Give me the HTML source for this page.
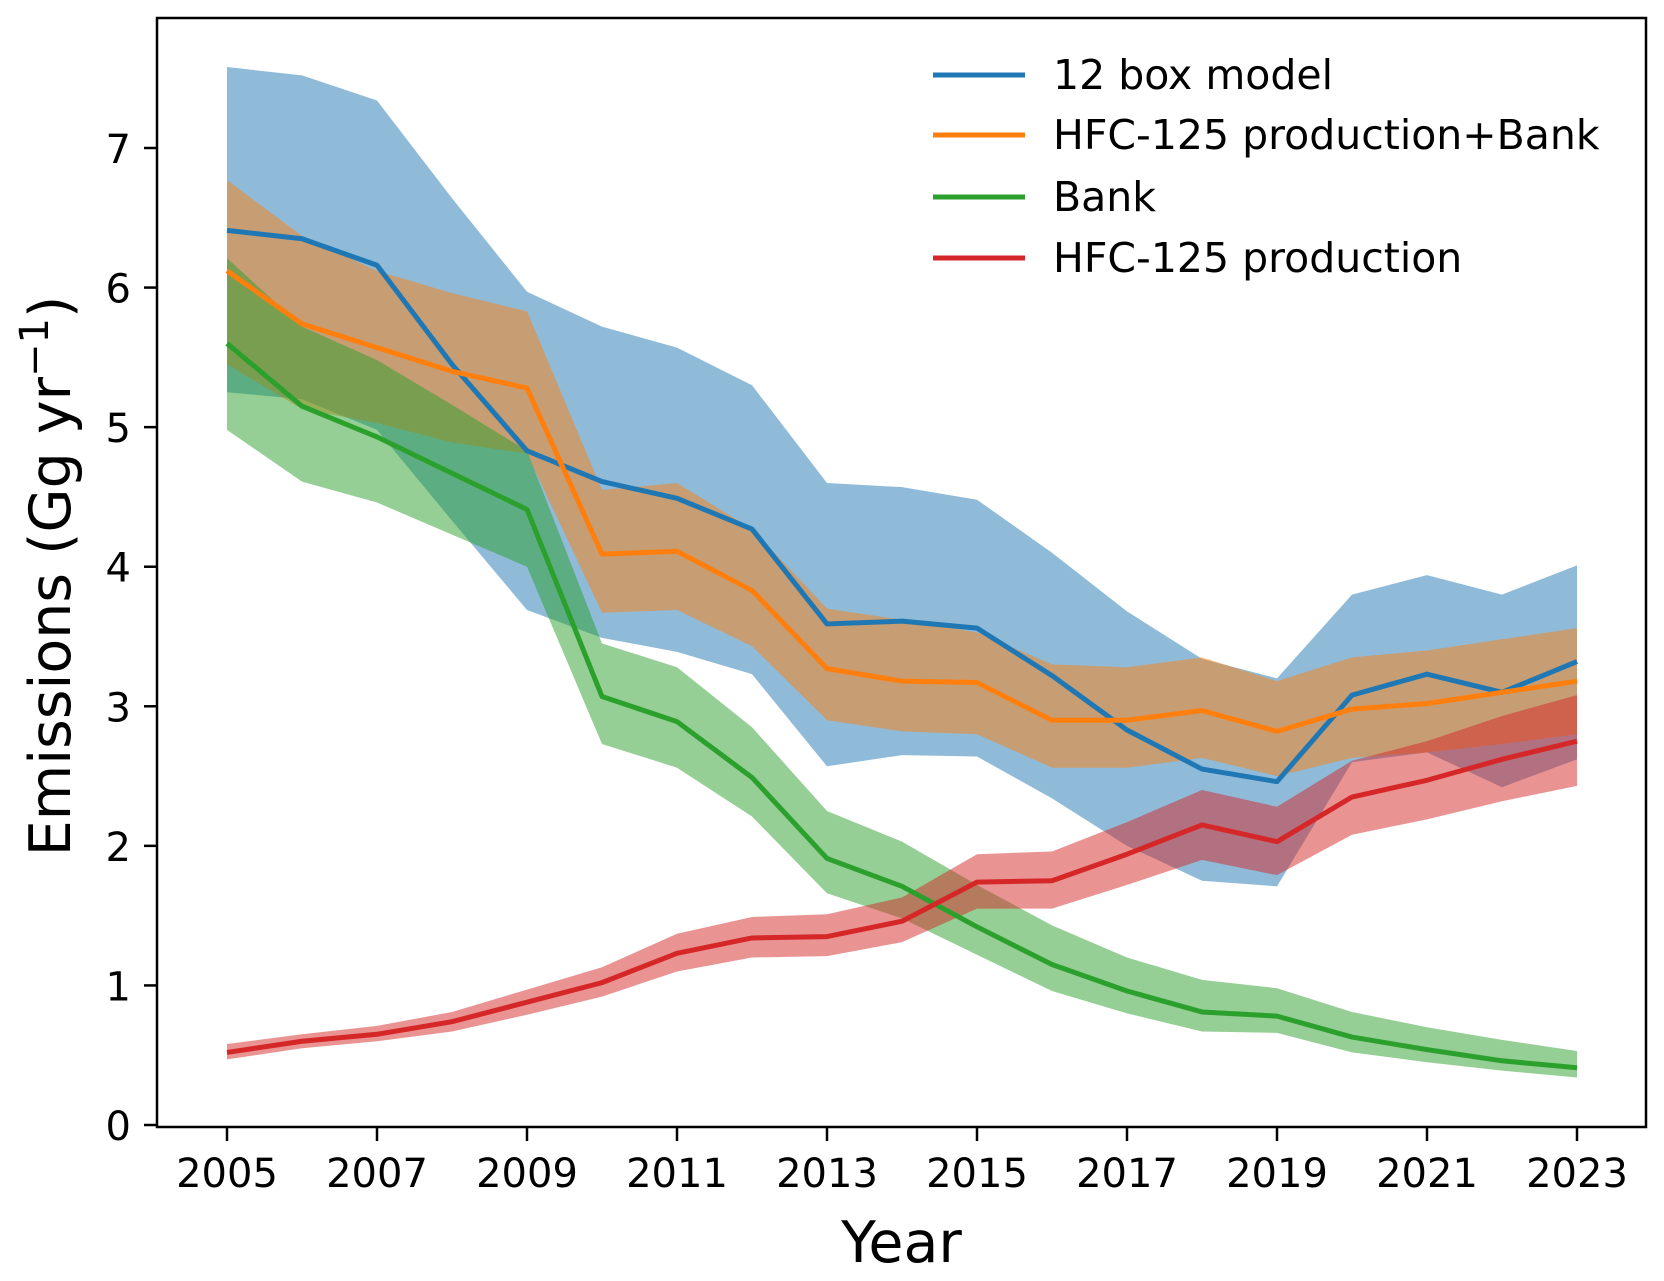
<!DOCTYPE html>
<html><head><meta charset="utf-8"><style>
html,body{margin:0;padding:0;background:#fff;}
svg text{font-family:"DejaVu Sans","Liberation Sans",sans-serif;fill:#000;}
</style></head><body>
<svg id="chart" width="1664" height="1276" viewBox="0 0 1664 1276" xmlns="http://www.w3.org/2000/svg">
<g id="fills"></g>
<g id="lines"></g>
<g id="axes"></g>
<g id="legend"></g>
</svg>
<script>
const years = [2005,2006,2007,2008,2009,2010,2011,2012,2013,2014,2015,2016,2017,2018,2019,2020,2021,2022,2023];
const boxMean = [6.41,6.35,6.16,5.45,4.83,4.61,4.49,4.27,3.59,3.61,3.56,3.22,2.83,2.55,2.46,3.08,3.23,3.10,3.32];
const boxHi = [7.58,7.52,7.34,6.64,5.97,5.72,5.57,5.30,4.60,4.57,4.48,4.10,3.68,3.34,3.20,3.80,3.94,3.80,4.01];
const boxLo = [5.25,5.20,4.98,4.33,3.69,3.49,3.39,3.23,2.57,2.65,2.64,2.34,2.00,1.75,1.71,2.60,2.67,2.42,2.62];
const pbMean = [6.12,5.74,5.57,5.40,5.28,4.09,4.11,3.83,3.27,3.18,3.17,2.90,2.90,2.97,2.82,2.98,3.02,3.10,3.18];
const pbHi = [6.77,6.37,6.12,5.96,5.83,4.55,4.60,4.27,3.70,3.62,3.53,3.30,3.28,3.35,3.18,3.35,3.40,3.48,3.56];
const pbLo = [5.45,5.13,5.03,4.89,4.81,3.67,3.69,3.43,2.90,2.82,2.80,2.56,2.56,2.63,2.50,2.63,2.67,2.73,2.80];
const bankMean = [5.60,5.15,4.93,4.67,4.41,3.07,2.89,2.49,1.91,1.71,1.42,1.15,0.96,0.81,0.78,0.63,0.54,0.46,0.41];
const bankHi = [6.21,5.72,5.48,5.16,4.83,3.45,3.28,2.85,2.25,2.03,1.72,1.43,1.20,1.04,0.98,0.81,0.70,0.61,0.53];
const bankLo = [4.98,4.61,4.46,4.23,4.00,2.73,2.56,2.21,1.66,1.48,1.22,0.96,0.80,0.67,0.66,0.52,0.45,0.39,0.34];
const prodMean = [0.52,0.60,0.65,0.74,0.88,1.02,1.23,1.34,1.35,1.46,1.74,1.75,1.94,2.15,2.03,2.35,2.47,2.62,2.75];
const prodHi = [0.58,0.65,0.71,0.81,0.97,1.13,1.37,1.49,1.51,1.63,1.94,1.96,2.17,2.40,2.28,2.61,2.75,2.93,3.08];
const prodLo = [0.47,0.55,0.60,0.67,0.79,0.92,1.10,1.20,1.21,1.31,1.55,1.55,1.72,1.90,1.79,2.08,2.19,2.32,2.43];
const yTicks = [0,1,2,3,4,5,6,7];
const xTicks = [2005,2007,2009,2011,2013,2015,2017,2019,2021,2023];
const legendLabels = ["12 box model","HFC-125 production+Bank","Bank","HFC-125 production"];

const NS="http://www.w3.org/2000/svg";
const L=157,R=1646,T=18,B=1127;
const xS=y=>227+(y-2005)*(1577-227)/18;
const yS=v=>1125-v*(1125-148)/7;
function mk(tag,parent){const e=document.createElementNS(NS,tag);document.getElementById(parent).appendChild(e);return e;}
const series=[
 {n:"box-model",c:"#1f77b4",m:boxMean,h:boxHi,l:boxLo},
 {n:"production-plus-bank",c:"#ff7f0e",m:pbMean,h:pbHi,l:pbLo},
 {n:"bank",c:"#2ca02c",m:bankMean,h:bankHi,l:bankLo},
 {n:"production",c:"#d62728",m:prodMean,h:prodHi,l:prodLo}];
series.forEach(s=>{
 const up=years.map((y,i)=>xS(y)+","+yS(s.h[i]));
 const lo=years.map((y,i)=>xS(y)+","+yS(s.l[i])).reverse();
 const p=mk("polygon","fills");
 
 
 p.setAttribute("points",up.concat(lo).join(" "));
 p.setAttribute("fill",s.c);p.setAttribute("fill-opacity","0.5");
});
series.forEach(s=>{
 const ln=mk("polyline","lines");
 
 
 ln.setAttribute("points",years.map((y,i)=>xS(y)+","+yS(s.m[i])).join(" "));
 ln.setAttribute("fill","none");ln.setAttribute("stroke",s.c);ln.setAttribute("stroke-width","5");ln.setAttribute("stroke-linejoin","round");
});
const fr=mk("rect","axes");


fr.setAttribute("x",L);fr.setAttribute("y",T);fr.setAttribute("width",R-L);fr.setAttribute("height",B-T);
fr.setAttribute("fill","none");fr.setAttribute("stroke","#000");fr.setAttribute("stroke-width","2.5");
yTicks.forEach(v=>{
 const t=mk("line","axes");
 
 
 t.setAttribute("x1",L-13);t.setAttribute("x2",L);t.setAttribute("y1",yS(v));t.setAttribute("y2",yS(v));t.setAttribute("stroke","#000");t.setAttribute("stroke-width","2.5");
 const tx=mk("text","axes");
 
 
 tx.setAttribute("x",L-26);tx.setAttribute("y",yS(v)+15);tx.setAttribute("text-anchor","end");tx.setAttribute("font-size","40");tx.textContent=v;
});
xTicks.forEach(v=>{
 const t=mk("line","axes");
 
 
 t.setAttribute("x1",xS(v));t.setAttribute("x2",xS(v));t.setAttribute("y1",B);t.setAttribute("y2",B+14);t.setAttribute("stroke","#000");t.setAttribute("stroke-width","2.5");
 const tx=mk("text","axes");
 
 
 tx.setAttribute("x",xS(v));tx.setAttribute("y",1187);tx.setAttribute("text-anchor","middle");tx.setAttribute("font-size","40");tx.textContent=v;
});
const xl=mk("text","axes");


xl.setAttribute("x",(L+R)/2);xl.setAttribute("y",1262);xl.setAttribute("text-anchor","middle");xl.setAttribute("font-size","57");xl.textContent="Year";
const yl=mk("text","axes");


yl.setAttribute("transform","translate(70,576) rotate(-90)");yl.setAttribute("text-anchor","middle");yl.setAttribute("font-size","57");
yl.innerHTML='Emissions (Gg yr<tspan dy="-22" font-size="40">−1</tspan><tspan dy="22">)</tspan>';
const ly=[75,135,197,258];
series.forEach((s,i)=>{
 const ln=mk("line","legend");
 
 
 ln.setAttribute("x1",933);ln.setAttribute("x2",1025);ln.setAttribute("y1",ly[i]);ln.setAttribute("y2",ly[i]);ln.setAttribute("stroke",s.c);ln.setAttribute("stroke-width","5");
 const tx=mk("text","legend");
 
 
 tx.setAttribute("x",1053);tx.setAttribute("y",ly[i]+14);tx.setAttribute("font-size","41");tx.textContent=legendLabels[i];
});
</script>
</body></html>
